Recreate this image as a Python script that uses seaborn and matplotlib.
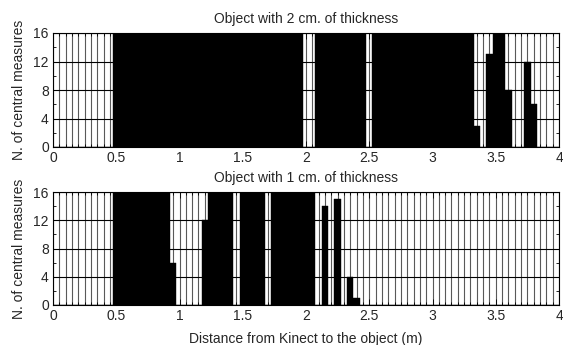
import numpy as np
import pandas as pd
import matplotlib
matplotlib.use("Agg")
import matplotlib.pyplot as plt
from matplotlib.ticker import MultipleLocator
import seaborn as sns

# histogram bins: 0.05 m wide, centred on 0.00 ... 4.00
bin_width = 0.05
centers = np.round(np.arange(0, 4.0001, bin_width), 2)

# counts per bin, 10 bins per row (0.00-0.45, 0.50-0.95, ...), last value = 4.00
counts_2cm = [
    0, 0, 0, 0, 0, 0, 0, 0, 0, 0,
    16, 16, 16, 16, 16, 16, 16, 16, 16, 16,
    16, 16, 16, 16, 16, 16, 16, 16, 16, 16,
    16, 16, 16, 16, 16, 16, 16, 16, 16, 16,
    0, 0, 16, 16, 16, 16, 16, 16, 16, 16,
    0, 16, 16, 16, 16, 16, 16, 16, 16, 16,
    16, 16, 16, 16, 16, 16, 16, 3, 0, 13,
    16, 16, 8, 0, 0, 12, 6, 0, 0, 0,
    0,
]
counts_1cm = [
    0, 0, 0, 0, 0, 0, 0, 0, 0, 0,
    16, 16, 16, 16, 16, 16, 16, 16, 16, 6,
    0, 0, 0, 0, 12, 16, 16, 16, 16, 0,
    16, 16, 16, 16, 0, 16, 16, 16, 16, 16,
    16, 16, 0, 14, 0, 15, 0, 4, 1, 0,
    0, 0, 0, 0, 0, 0, 0, 0, 0, 0,
    0, 0, 0, 0, 0, 0, 0, 0, 0, 0,
    0, 0, 0, 0, 0, 0, 0, 0, 0, 0,
    0,
]
xticks = [0, 0.5, 1, 1.5, 2, 2.5, 3, 3.5, 4]
xtick_labels = ["0", "0.5", "1", "1.5", "2", "2.5", "3", "3.5", "4"]
yticks = [0, 4, 8, 12, 16]
titles = ["Object with 2 cm. of thickness", "Object with 1 cm. of thickness"]
xlabel = "Distance from Kinect to the object (m)"
ylabel = "N. of central measures"

sns.set_style("ticks")
plt.rcParams["font.family"] = ["Liberation Sans", "DejaVu Sans"]
fs = 10

fig = plt.figure(figsize=(5.63, 3.45), dpi=100)
ax_top = fig.add_axes([53 / 563, 1 - 147 / 345, 506 / 563, 114 / 345])
ax_bot = fig.add_axes([53 / 563, 1 - 305 / 345, 506 / 563, 113 / 345])

for ax, counts, title in zip([ax_top, ax_bot], [counts_2cm, counts_1cm], titles):
    df = pd.DataFrame({"distance": centers, "n": counts})
    sns.histplot(data=df, x="distance", weights="n", binwidth=bin_width,
                 binrange=(-bin_width / 2, 4 + bin_width / 2), ax=ax,
                 color="black", edgecolor="black", linewidth=0.3, alpha=1)
    ax.set_xticks(xticks, labels=xtick_labels)
    ax.set_yticks(yticks)
    ax.xaxis.set_minor_locator(MultipleLocator(bin_width))
    ax.yaxis.set_minor_locator(MultipleLocator(2))
    ax.set_xlim(0, 4)
    ax.set_ylim(0, 16)
    ax.set_axisbelow(True)
    ax.grid(True, axis="x", which="both", color="0.35", linewidth=0.8)
    ax.grid(True, axis="y", which="major", color="black", linewidth=0.8)
    ax.tick_params(which="both", direction="in", top=True, right=True,
                   labelsize=fs, pad=3, width=0.6, color="black")
    ax.tick_params(which="major", length=4)
    ax.tick_params(which="minor", length=2.5)
    for s in ax.spines.values():
        s.set_visible(True)
        s.set_color("black")
        s.set_linewidth(0.8)
    ax.set_title(title, fontsize=fs, pad=7)
    ax.set_ylabel(ylabel, fontsize=fs, labelpad=5)
    ax.set_xlabel("")

ax_bot.set_xlabel(xlabel, fontsize=fs, labelpad=6)

fig.savefig("out.png", dpi=100)
